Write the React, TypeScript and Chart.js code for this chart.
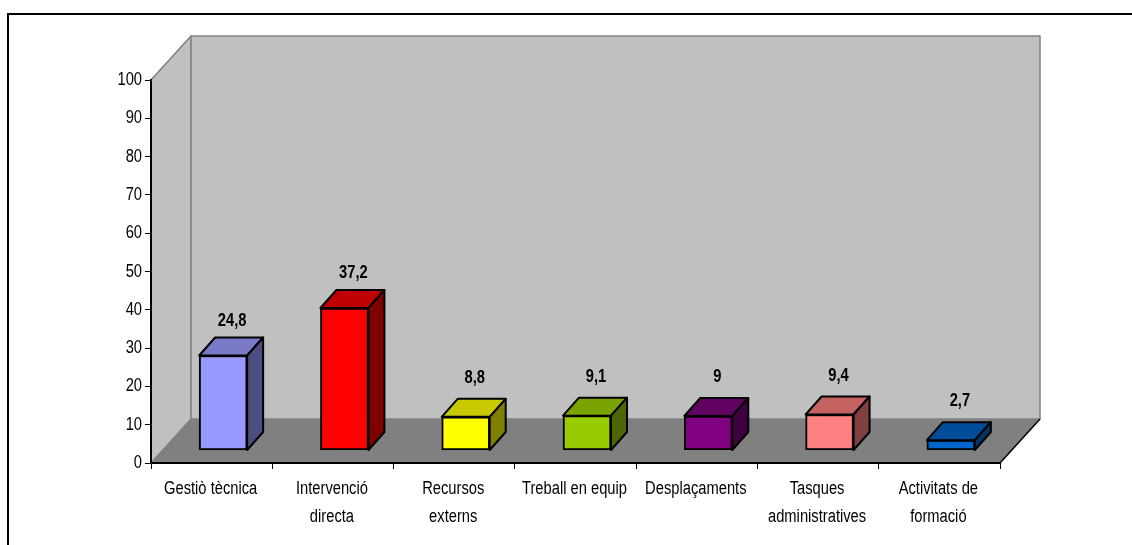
import React, { useEffect, useRef } from "react";
import { Chart, registerables } from "chart.js";

Chart.register(...registerables);

const categories: (string | string[])[] = [
  "Gestiò tècnica",
  ["Intervenció", "directa"],
  ["Recursos", "externs"],
  "Treball en equip",
  "Desplaçaments",
  ["Tasques", "administratives"],
  ["Activitats de", "formació"],
];
const values = [24.8, 37.2, 8.8, 9.1, 9, 9.4, 2.7];
const valueLabels = ["24,8", "37,2", "8,8", "9,1", "9", "9,4", "2,7"];
const frontColors = ["#9999FF", "#FF0000", "#FFFF00", "#99CC00", "#800080", "#FF8080", "#0066CC"];
const topColors = ["#7A7AC9", "#BF0000", "#C9C900", "#7AA300", "#600060", "#C46262", "#004C99"];
const sideColors = ["#4D4D80", "#800000", "#808000", "#4D6600", "#400040", "#804040", "#003366"];

const FONT = '"Liberation Sans", Arial, sans-serif';
const TEXT_SCALE_X = 0.92;
const TEXT_SCALE_Y = 1.15;
const WALL_DX = 40;
const WALL_DY = 44;
const BAR_OFF_X = 11.5;
const BAR_OFF_Y = 12.5;
const BAR_DX = 16;
const BAR_DY = 18;

function poly(ctx: CanvasRenderingContext2D, pts: number[][], fill: string | null, stroke: string | null, lw = 1) {
  ctx.beginPath();
  pts.forEach(([x, y], i) => (i ? ctx.lineTo(x, y) : ctx.moveTo(x, y)));
  ctx.closePath();
  if (fill) {
    ctx.fillStyle = fill;
    ctx.fill();
  }
  if (stroke) {
    ctx.strokeStyle = stroke;
    ctx.lineWidth = lw;
    ctx.lineJoin = "round";
    ctx.stroke();
  }
}

const box3d = {
  id: "box3d",
  beforeInit(chart: any) {
    // The reference uses a condensed, tall face: stretch every text about its anchor.
    const ctx = chart.ctx;
    const orig = ctx.fillText.bind(ctx);
    ctx.fillText = (text: string, x: number, y: number, maxWidth?: number) => {
      ctx.save();
      ctx.translate(x, y);
      ctx.scale(TEXT_SCALE_X, TEXT_SCALE_Y);
      if (maxWidth === undefined) orig(text, 0, 0);
      else orig(text, 0, 0, maxWidth / TEXT_SCALE_X);
      ctx.restore();
    };
  },
  beforeDraw(chart: any) {
    const ctx = chart.ctx;
    ctx.save();
    ctx.fillStyle = "#fff";
    ctx.fillRect(0, 0, chart.width, chart.height);
    ctx.strokeStyle = "#000";
    ctx.lineWidth = 2;
    ctx.beginPath();
    ctx.moveTo(8, 546);
    ctx.lineTo(8, 14);
    ctx.lineTo(1133, 14);
    ctx.stroke();
    const { left: l, right: r, top: t, bottom: b } = chart.chartArea;
    const dx = WALL_DX;
    const dy = WALL_DY;
    poly(ctx, [[l, b], [l + dx, b - dy], [l + dx, t - dy], [l, t]], "#C0C0C0", "#808080", 1.5);
    poly(ctx, [[l + dx, b - dy], [r + dx, b - dy], [r + dx, t - dy], [l + dx, t - dy]], "#C0C0C0", "#808080", 1.5);
    poly(ctx, [[l, b], [r, b], [r + dx, b - dy], [l + dx, b - dy]], "#808080", null);
    ctx.strokeStyle = "#000";
    ctx.lineWidth = 1.5;
    ctx.beginPath();
    ctx.moveTo(r, b);
    ctx.lineTo(r + dx, b - dy);
    ctx.stroke();
    ctx.restore();
  },
  beforeDatasetDraw(chart: any) {
    const ctx = chart.ctx;
    ctx.save();
    ctx.translate(BAR_OFF_X, -BAR_OFF_Y);
  },
  afterDatasetDraw(chart: any) {
    const ctx = chart.ctx;
    ctx.restore();
    ctx.save();
    const bars = chart.getDatasetMeta(0).data;
    bars.forEach((el: any, i: number) => {
      const hw = el.width / 2;
      const xl = el.x - hw + BAR_OFF_X;
      const xr = el.x + hw + BAR_OFF_X;
      const yt = el.y - BAR_OFF_Y;
      const yb = el.base - BAR_OFF_Y;
      poly(ctx, [[xl, yt], [xr, yt], [xr + BAR_DX, yt - BAR_DY], [xl + BAR_DX, yt - BAR_DY]], topColors[i], "#000", 2);
      poly(ctx, [[xr, yt], [xr + BAR_DX, yt - BAR_DY], [xr + BAR_DX, yb - BAR_DY], [xr, yb]], sideColors[i], "#000", 2);
      ctx.fillStyle = "#000";
      ctx.font = `bold 16px ${FONT}`;
      ctx.textAlign = "center";
      ctx.textBaseline = "middle";
      const gap = values[i] < 10 ? 21 : 17;
      ctx.fillText(valueLabels[i], el.x + BAR_OFF_X + BAR_DX / 2 + 1, yt - BAR_DY - gap);
    });
    ctx.restore();
  },
};

export default function App() {
  const ref = useRef<HTMLCanvasElement>(null);
  useEffect(() => {
    const chart = new Chart(ref.current as HTMLCanvasElement, {
      type: "bar",
      data: {
        labels: categories as any,
        datasets: [
          {
            data: values,
            backgroundColor: frontColors,
            borderColor: "#000",
            borderWidth: 2,
            borderSkipped: false,
            barThickness: 48,
          } as any,
        ],
      },
      options: {
        responsive: false,
        animation: false,
        layout: { padding: { left: 8, right: 132, top: 80, bottom: 0 } },
        plugins: { legend: { display: false }, title: { display: false }, tooltip: { enabled: false } },
        scales: {
          x: {
            grid: { drawOnChartArea: false, drawTicks: true, tickLength: 6, color: "#000", offset: true },
            border: { color: "#000", width: 2 },
            ticks: {
              color: "#000",
              font: { family: FONT, size: 16, lineHeight: 1.75 },
              maxRotation: 0,
              autoSkip: false,
              padding: 6,
              labelOffset: -1,
            },
            afterFit: (s: any) => {
              s.height = 82;
            },
          },
          y: {
            min: 0,
            max: 100,
            grid: { drawOnChartArea: false, drawTicks: true, tickLength: 6, color: "#000" },
            border: { color: "#000", width: 2 },
            ticks: { stepSize: 10, color: "#000", font: { family: FONT, size: 16 }, padding: 3 },
            afterFit: (s: any) => {
              s.width = 143;
            },
          },
        },
      },
      plugins: [box3d as any],
    });
    return () => chart.destroy();
  }, []);
  return (
    <div style={{ position: "absolute", left: 0, top: 0, width: 1132, height: 545 }}>
      <canvas ref={ref} width={1132} height={545} style={{ display: "block" }} />
    </div>
  );
}
